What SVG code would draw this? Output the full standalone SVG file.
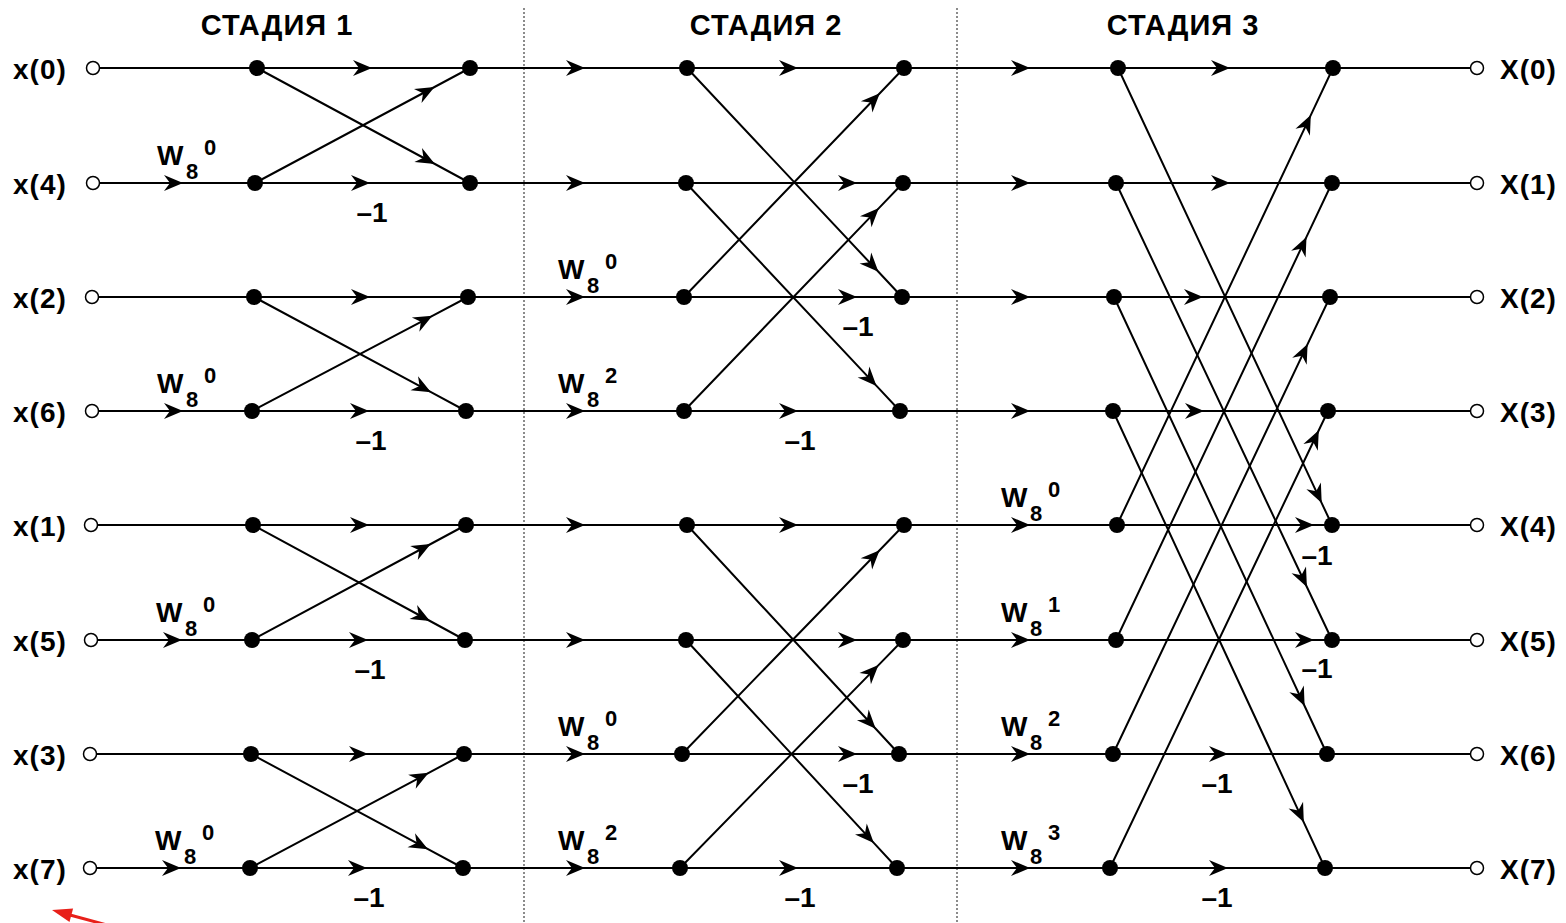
<svg xmlns="http://www.w3.org/2000/svg" width="1566" height="923" viewBox="0 0 1566 923">
<style>
.t{font-family:"Liberation Sans",Arial,sans-serif;font-weight:bold;fill:#000}
.hdr{font-size:29px;letter-spacing:1px;text-anchor:middle}
.io{font-size:28px;letter-spacing:1px}
.w{font-size:28px}
.sub{font-size:22px}
.sup{font-size:22px}
.m1{font-size:28px;text-anchor:middle}
.ln{fill:none;stroke:#000;stroke-width:2;marker-mid:url(#ah)}
.dot{fill:#000}
.term{fill:#fff;stroke:#000;stroke-width:1.5}
.div{stroke:#666;stroke-width:1.5;stroke-dasharray:2 2}
</style>
<defs>
<marker id="ah" viewBox="-20 -9 21 18" markerWidth="21" markerHeight="18" refX="0" refY="0" orient="auto" markerUnits="userSpaceOnUse"><path d="M0,0 L-19,-8 L-13,0 L-19,8 Z" fill="#000"/></marker>
</defs>
<rect width="1566" height="923" fill="#fff"/>

<g id="dividers">
<line class="div" x1="524" y1="8" x2="524" y2="923"/>
<line class="div" x1="957" y1="8" x2="957" y2="923"/>
</g>

<g id="headers">
<text class="t hdr" x="277" y="35">СТАДИЯ 1</text>
<text class="t hdr" x="766" y="35">СТАДИЯ 2</text>
<text class="t hdr" x="1183" y="35">СТАДИЯ 3</text>
</g>

<g id="connectors">
<path class="ln" d="M99.5,68 L372,68 L585,68 L798,68 L1030,68 L1230,68 L1470,68"/>
<path class="ln" d="M99.5,183 L183,183 L370,183 L585,183 L857,183 L1030,183 L1230,183 L1470,183"/>
<path class="ln" d="M98.5,297 L370,297 L585,297 L857,297 L1030,297 L1203,297 L1470,297"/>
<path class="ln" d="M98.5,411 L183,411 L369,411 L585,411 L798,411 L1030,411 L1204,411 L1470,411"/>
<path class="ln" d="M97.5,525 L369,525 L585,525 L798,525 L1030,525 L1314,525 L1470,525"/>
<path class="ln" d="M97.5,640 L182,640 L368,640 L585,640 L857,640 L1030,640 L1314,640 L1470,640"/>
<path class="ln" d="M96.5,754 L368,754 L585,754 L857,754 L1030,754 L1228,754 L1470,754"/>
<path class="ln" d="M96.5,868 L181,868 L367,868 L585,868 L798,868 L1030,868 L1228,868 L1470,868"/>

<path class="ln" d="M257,68 L434.9,164 L470,183"/>
<path class="ln" d="M255,183 L434.5,87 L470,68"/>
<path class="ln" d="M254,297 L431,392.2 L466,411"/>
<path class="ln" d="M252,411 L432.4,315.8 L468,297"/>
<path class="ln" d="M253,525 L430,621 L465,640"/>
<path class="ln" d="M252,640 L430.7,544 L466,525"/>
<path class="ln" d="M251,754 L428,849.2 L463,868"/>
<path class="ln" d="M250,868 L428.7,772.8 L464,754"/>

<path class="ln" d="M687,68 L878.4,271.8 L902,297"/>
<path class="ln" d="M686,183 L876.5,385.9 L900,411"/>
<path class="ln" d="M684,297 L879.8,93.2 L904,68"/>
<path class="ln" d="M684,411 L878.9,208.1 L903,183"/>
<path class="ln" d="M687,525 L875.7,728.8 L899,754"/>
<path class="ln" d="M686,640 L873.8,842.9 L897,868"/>
<path class="ln" d="M682,754 L879.6,550.2 L904,525"/>
<path class="ln" d="M680,868 L878.5,665.1 L903,640"/>

<path class="ln" d="M1118,68 L1321.7,503.1 L1332,525"/>
<path class="ln" d="M1116,183 L1306.9,587 L1332,640"/>
<path class="ln" d="M1114,297 L1304.6,706 L1327,754"/>
<path class="ln" d="M1113,411 L1303.8,822.3 L1325,868"/>
<path class="ln" d="M1117,525 L1310.8,115.1 L1333,68"/>
<path class="ln" d="M1116,640 L1306.5,236.9 L1332,183"/>
<path class="ln" d="M1113,754 L1307.6,344.1 L1330,297"/>
<path class="ln" d="M1110,868 L1318.8,430.2 L1328,411"/>
</g>

<g id="weights">
<text class="t w" x="157" y="165">W<tspan class="sub" x="186" y="179">8</tspan><tspan class="sup" x="204" y="155">0</tspan></text>
<text class="t w" x="157" y="393">W<tspan class="sub" x="186" y="407">8</tspan><tspan class="sup" x="204" y="383">0</tspan></text>
<text class="t w" x="156" y="622">W<tspan class="sub" x="185" y="636">8</tspan><tspan class="sup" x="203" y="612">0</tspan></text>
<text class="t w" x="155" y="850">W<tspan class="sub" x="184" y="864">8</tspan><tspan class="sup" x="202" y="840">0</tspan></text>

<text class="t w" x="558" y="279">W<tspan class="sub" x="587" y="293">8</tspan><tspan class="sup" x="605" y="269">0</tspan></text>
<text class="t w" x="558" y="393">W<tspan class="sub" x="587" y="407">8</tspan><tspan class="sup" x="605" y="383">2</tspan></text>
<text class="t w" x="558" y="736">W<tspan class="sub" x="587" y="750">8</tspan><tspan class="sup" x="605" y="726">0</tspan></text>
<text class="t w" x="558" y="850">W<tspan class="sub" x="587" y="864">8</tspan><tspan class="sup" x="605" y="840">2</tspan></text>

<text class="t w" x="1001" y="507">W<tspan class="sub" x="1030" y="521">8</tspan><tspan class="sup" x="1048" y="497">0</tspan></text>
<text class="t w" x="1001" y="622">W<tspan class="sub" x="1030" y="636">8</tspan><tspan class="sup" x="1048" y="612">1</tspan></text>
<text class="t w" x="1001" y="736">W<tspan class="sub" x="1030" y="750">8</tspan><tspan class="sup" x="1048" y="726">2</tspan></text>
<text class="t w" x="1001" y="850">W<tspan class="sub" x="1030" y="864">8</tspan><tspan class="sup" x="1048" y="840">3</tspan></text>
</g>

<g id="minus-one">
<text class="t m1" x="372" y="222">–1</text>
<text class="t m1" x="371" y="450">–1</text>
<text class="t m1" x="370" y="679">–1</text>
<text class="t m1" x="369" y="907">–1</text>
<text class="t m1" x="858" y="336">–1</text>
<text class="t m1" x="800" y="450">–1</text>
<text class="t m1" x="858" y="793">–1</text>
<text class="t m1" x="800" y="907">–1</text>
<text class="t m1" x="1317" y="565">–1</text>
<text class="t m1" x="1317" y="678">–1</text>
<text class="t m1" x="1217" y="793">–1</text>
<text class="t m1" x="1217" y="907">–1</text>
</g>

<g id="in0"><circle class="term" cx="93" cy="68" r="6.5"/><text class="t io" x="13" y="79">x(0)</text></g>
<g id="in4"><circle class="term" cx="93" cy="183" r="6.5"/><text class="t io" x="13" y="194">x(4)</text></g>
<g id="in2"><circle class="term" cx="92" cy="297" r="6.5"/><text class="t io" x="13" y="308">x(2)</text></g>
<g id="in6"><circle class="term" cx="92" cy="411" r="6.5"/><text class="t io" x="13" y="422">x(6)</text></g>
<g id="in1"><circle class="term" cx="91" cy="525" r="6.5"/><text class="t io" x="13" y="536">x(1)</text></g>
<g id="in5"><circle class="term" cx="91" cy="640" r="6.5"/><text class="t io" x="13" y="651">x(5)</text></g>
<g id="in3"><circle class="term" cx="90" cy="754" r="6.5"/><text class="t io" x="13" y="765">x(3)</text></g>
<g id="in7"><circle class="term" cx="90" cy="868" r="6.5"/><text class="t io" x="13" y="879">x(7)</text></g>

<g id="s1a0"><circle class="dot" cx="257" cy="68" r="8"/></g>
<g id="s1a1"><circle class="dot" cx="255" cy="183" r="8"/></g>
<g id="s1a2"><circle class="dot" cx="254" cy="297" r="8"/></g>
<g id="s1a3"><circle class="dot" cx="252" cy="411" r="8"/></g>
<g id="s1a4"><circle class="dot" cx="253" cy="525" r="8"/></g>
<g id="s1a5"><circle class="dot" cx="252" cy="640" r="8"/></g>
<g id="s1a6"><circle class="dot" cx="251" cy="754" r="8"/></g>
<g id="s1a7"><circle class="dot" cx="250" cy="868" r="8"/></g>
<g id="s1b0"><circle class="dot" cx="470" cy="68" r="8"/></g>
<g id="s1b1"><circle class="dot" cx="470" cy="183" r="8"/></g>
<g id="s1b2"><circle class="dot" cx="468" cy="297" r="8"/></g>
<g id="s1b3"><circle class="dot" cx="466" cy="411" r="8"/></g>
<g id="s1b4"><circle class="dot" cx="466" cy="525" r="8"/></g>
<g id="s1b5"><circle class="dot" cx="465" cy="640" r="8"/></g>
<g id="s1b6"><circle class="dot" cx="464" cy="754" r="8"/></g>
<g id="s1b7"><circle class="dot" cx="463" cy="868" r="8"/></g>

<g id="s2a0"><circle class="dot" cx="687" cy="68" r="8"/></g>
<g id="s2a1"><circle class="dot" cx="686" cy="183" r="8"/></g>
<g id="s2a2"><circle class="dot" cx="684" cy="297" r="8"/></g>
<g id="s2a3"><circle class="dot" cx="684" cy="411" r="8"/></g>
<g id="s2a4"><circle class="dot" cx="687" cy="525" r="8"/></g>
<g id="s2a5"><circle class="dot" cx="686" cy="640" r="8"/></g>
<g id="s2a6"><circle class="dot" cx="682" cy="754" r="8"/></g>
<g id="s2a7"><circle class="dot" cx="680" cy="868" r="8"/></g>
<g id="s2b0"><circle class="dot" cx="904" cy="68" r="8"/></g>
<g id="s2b1"><circle class="dot" cx="903" cy="183" r="8"/></g>
<g id="s2b2"><circle class="dot" cx="902" cy="297" r="8"/></g>
<g id="s2b3"><circle class="dot" cx="900" cy="411" r="8"/></g>
<g id="s2b4"><circle class="dot" cx="904" cy="525" r="8"/></g>
<g id="s2b5"><circle class="dot" cx="903" cy="640" r="8"/></g>
<g id="s2b6"><circle class="dot" cx="899" cy="754" r="8"/></g>
<g id="s2b7"><circle class="dot" cx="897" cy="868" r="8"/></g>

<g id="s3a0"><circle class="dot" cx="1118" cy="68" r="8"/></g>
<g id="s3a1"><circle class="dot" cx="1116" cy="183" r="8"/></g>
<g id="s3a2"><circle class="dot" cx="1114" cy="297" r="8"/></g>
<g id="s3a3"><circle class="dot" cx="1113" cy="411" r="8"/></g>
<g id="s3a4"><circle class="dot" cx="1117" cy="525" r="8"/></g>
<g id="s3a5"><circle class="dot" cx="1116" cy="640" r="8"/></g>
<g id="s3a6"><circle class="dot" cx="1113" cy="754" r="8"/></g>
<g id="s3a7"><circle class="dot" cx="1110" cy="868" r="8"/></g>
<g id="s3b0"><circle class="dot" cx="1333" cy="68" r="8"/></g>
<g id="s3b1"><circle class="dot" cx="1332" cy="183" r="8"/></g>
<g id="s3b2"><circle class="dot" cx="1330" cy="297" r="8"/></g>
<g id="s3b3"><circle class="dot" cx="1328" cy="411" r="8"/></g>
<g id="s3b4"><circle class="dot" cx="1332" cy="525" r="8"/></g>
<g id="s3b5"><circle class="dot" cx="1332" cy="640" r="8"/></g>
<g id="s3b6"><circle class="dot" cx="1327" cy="754" r="8"/></g>
<g id="s3b7"><circle class="dot" cx="1325" cy="868" r="8"/></g>

<g id="out0"><circle class="term" cx="1477" cy="68" r="6.5"/><text class="t io" x="1500" y="79">X(0)</text></g>
<g id="out1"><circle class="term" cx="1477" cy="183" r="6.5"/><text class="t io" x="1500" y="194">X(1)</text></g>
<g id="out2"><circle class="term" cx="1477" cy="297" r="6.5"/><text class="t io" x="1500" y="308">X(2)</text></g>
<g id="out3"><circle class="term" cx="1477" cy="411" r="6.5"/><text class="t io" x="1500" y="422">X(3)</text></g>
<g id="out4"><circle class="term" cx="1477" cy="525" r="6.5"/><text class="t io" x="1500" y="536">X(4)</text></g>
<g id="out5"><circle class="term" cx="1477" cy="640" r="6.5"/><text class="t io" x="1500" y="651">X(5)</text></g>
<g id="out6"><circle class="term" cx="1477" cy="754" r="6.5"/><text class="t io" x="1500" y="765">X(6)</text></g>
<g id="out7"><circle class="term" cx="1477" cy="868" r="6.5"/><text class="t io" x="1500" y="879">X(7)</text></g>

<g id="red-pointer">
<line x1="70" y1="915" x2="118" y2="928" stroke="#e8201a" stroke-width="3"/>
<polygon points="52,910 73.1,908.4 69.5,922" fill="#e8201a"/>
</g>
</svg>
